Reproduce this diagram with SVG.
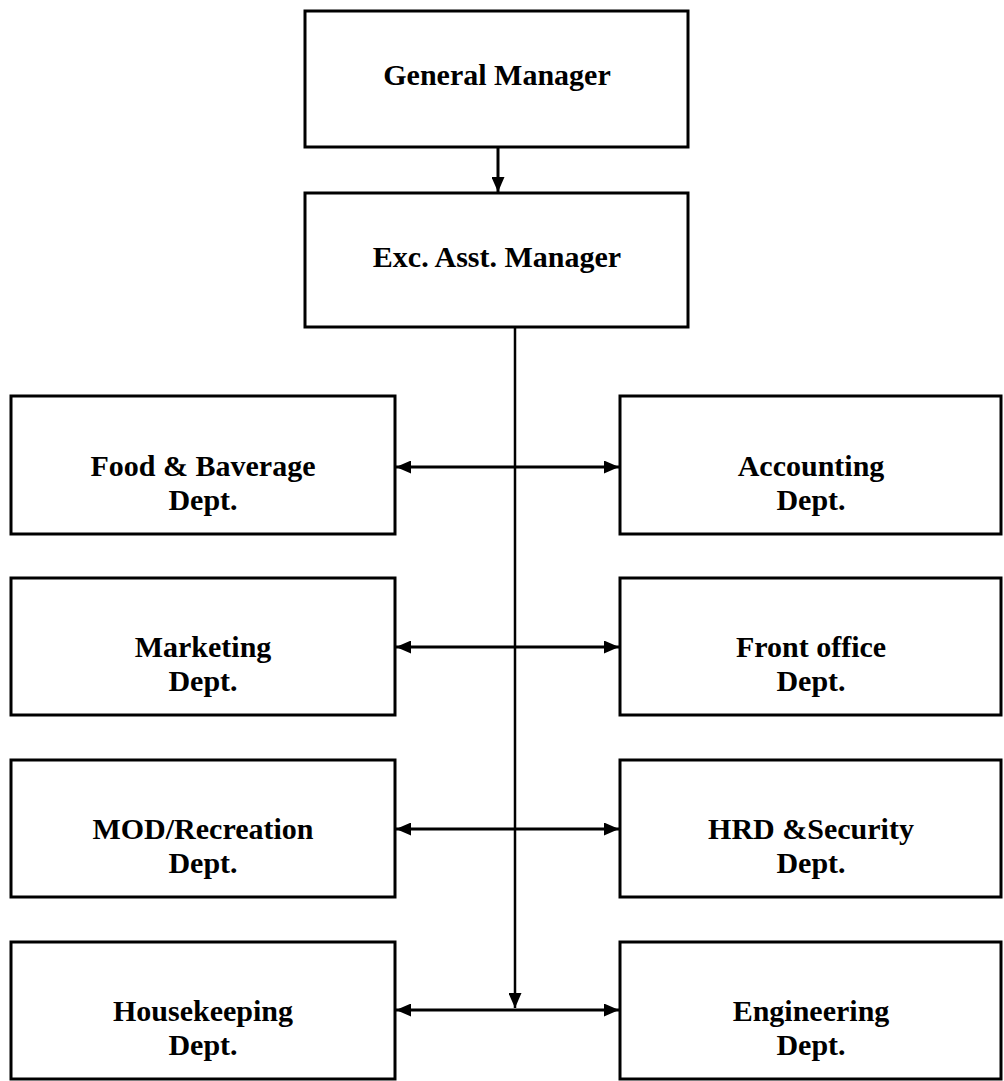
<svg xmlns="http://www.w3.org/2000/svg" width="1004" height="1081" viewBox="0 0 1004 1081">
  <style>
    .box { fill: #ffffff; stroke: #000000; stroke-width: 3; }
    .label { font-family: "Liberation Serif", "Times New Roman", serif; font-weight: bold; font-size: 30px; fill: #000000; text-anchor: middle; }
    .link { stroke: #000000; stroke-width: 3; fill: none; }
    .trunk { stroke: #000000; stroke-width: 2.5; fill: none; }
  </style>
  <defs>
    <marker id="head" markerUnits="userSpaceOnUse" markerWidth="15" markerHeight="13" refX="15" refY="6.5" orient="auto-start-reverse">
      <path d="M0,0 L15,6.5 L0,13 z" fill="#000000"/>
    </marker>
  </defs>
  <rect width="1004" height="1081" fill="#ffffff"/>

  <g id="connectors">
    <line class="link" x1="498" y1="147" x2="498" y2="192" marker-end="url(#head)"/>
    <line class="trunk" x1="515" y1="327" x2="515" y2="1008" marker-end="url(#head)"/>
    <line class="link" x1="396" y1="467" x2="619" y2="467" marker-start="url(#head)" marker-end="url(#head)"/>
    <line class="link" x1="396" y1="647" x2="619" y2="647" marker-start="url(#head)" marker-end="url(#head)"/>
    <line class="link" x1="396" y1="829" x2="619" y2="829" marker-start="url(#head)" marker-end="url(#head)"/>
    <line class="link" x1="396" y1="1010" x2="619" y2="1010" marker-start="url(#head)" marker-end="url(#head)"/>
  </g>

  <g id="general-manager">
    <rect class="box" x="305" y="11" width="383" height="136"/>
    <text class="label" x="497" y="85">General Manager</text>
  </g>
  <g id="exc-asst-manager">
    <rect class="box" x="305" y="193" width="383" height="134"/>
    <text class="label" x="497" y="267">Exc. Asst. Manager</text>
  </g>

  <g id="food-baverage">
    <rect class="box" x="11" y="396" width="384" height="138"/>
    <text class="label" x="203" y="476">Food &amp; Baverage</text>
    <text class="label" x="203" y="510">Dept.</text>
  </g>
  <g id="accounting">
    <rect class="box" x="620" y="396" width="381" height="138"/>
    <text class="label" x="811" y="476">Accounting</text>
    <text class="label" x="811" y="510">Dept.</text>
  </g>

  <g id="marketing">
    <rect class="box" x="11" y="578" width="384" height="137"/>
    <text class="label" x="203" y="657">Marketing</text>
    <text class="label" x="203" y="691">Dept.</text>
  </g>
  <g id="front-office">
    <rect class="box" x="620" y="578" width="381" height="137"/>
    <text class="label" x="811" y="657">Front office</text>
    <text class="label" x="811" y="691">Dept.</text>
  </g>

  <g id="mod-recreation">
    <rect class="box" x="11" y="760" width="384" height="137"/>
    <text class="label" x="203" y="839">MOD/Recreation</text>
    <text class="label" x="203" y="873">Dept.</text>
  </g>
  <g id="hrd-security">
    <rect class="box" x="620" y="760" width="381" height="137"/>
    <text class="label" x="811" y="839">HRD &amp;Security</text>
    <text class="label" x="811" y="873">Dept.</text>
  </g>

  <g id="housekeeping">
    <rect class="box" x="11" y="942" width="384" height="137"/>
    <text class="label" x="203" y="1021">Housekeeping</text>
    <text class="label" x="203" y="1055">Dept.</text>
  </g>
  <g id="engineering">
    <rect class="box" x="620" y="942" width="381" height="137"/>
    <text class="label" x="811" y="1021">Engineering</text>
    <text class="label" x="811" y="1055">Dept.</text>
  </g>
</svg>
